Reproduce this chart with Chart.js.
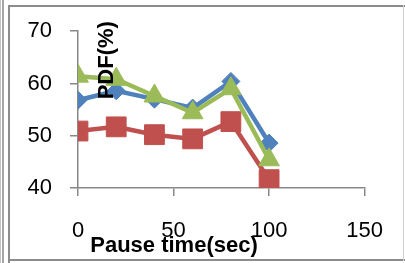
<!DOCTYPE html>
<html>
<head>
<meta charset="utf-8">
<script src="https://cdn.jsdelivr.net/npm/chart.js@4.4.1/dist/chart.umd.min.js"></script>
<style>
  html, body { margin: 0; padding: 0; background: #fff; }
  #wrap { position: relative; width: 405px; height: 263px; overflow: hidden; }
  #wrap canvas { position: absolute; left: 0; top: 0; }
  .ln { position: absolute; background: #8c8c8c; }
</style>
</head>
<body>
<div id="wrap">
  <canvas id="pdfChart" width="405" height="263"></canvas>
  <div class="ln" style="left:0;top:0;width:1px;height:263px;background:#c4c4c4"></div>
  <div class="ln" style="left:2px;top:0;width:2px;height:263px;background:#a6a6a6"></div>
  <div class="ln" style="left:8px;top:5px;width:2px;height:258px"></div>
  <div class="ln" style="left:8px;top:5px;width:397px;height:2px"></div>
  <div class="ln" style="left:8px;top:259px;width:397px;height:2px"></div>
  <div class="ln" style="left:403px;top:5px;width:1px;height:256px;background:#d0d0d0"></div>
</div>
<script>
// pause time values (sec)
const pauseTimes = [0, 20, 40, 60, 80, 100];

// PDF (%) for the three series
const seriesBlue  = [56.8, 58.6, 57.0, 55.3, 60.4, 48.6];
const seriesRed   = [50.9, 51.7, 50.2, 49.4, 52.7, 41.6];
const seriesGreen = [61.4, 60.8, 57.6, 54.4, 59.0, 45.4];

const xTicks = [0, 50, 100, 150];
const yTicks = [40, 50, 60, 70];

function toPoints(vals) {
    return vals.map(function(v, i) { return { x: pauseTimes[i], y: v }; });
}

// axis titles sit inside the plot like in the original sheet
const axisTitles = {
    id: 'axisTitles',
    afterDraw: function(chart) {
        const ctx = chart.ctx;
        const xs = chart.scales.x, ys = chart.scales.y;
        ctx.save();
        ctx.fillStyle = '#000';
        ctx.font = 'bold 22px "Liberation Sans", Arial, sans-serif';
        ctx.textAlign = 'center';
        ctx.textBaseline = 'middle';
        ctx.fillText('Pause time(sec)', xs.left + 96, 246);
        ctx.translate(ys.right + 29, ys.top + 29);
        ctx.rotate(-Math.PI / 2);
        ctx.fillText('PDF(%)', 0, 0);
        ctx.restore();
    }
};

const axisColor = '#888888';
const tickFont = { size: 22, family: '"Liberation Sans", Arial, sans-serif' };

new Chart(document.getElementById('pdfChart'), {
    type: 'line',
    data: {
        datasets: [
            {
                label: 'Series1',
                data: toPoints(seriesBlue),
                borderColor: '#4F81BD',
                backgroundColor: '#4F81BD',
                borderWidth: 4.5,
                pointStyle: 'rectRot',
                pointRadius: 9,
                pointBorderWidth: 1,
                order: 2
            },
            {
                label: 'Series2',
                data: toPoints(seriesRed),
                borderColor: '#C0504D',
                backgroundColor: '#C0504D',
                borderWidth: 4.5,
                pointStyle: 'rect',
                pointRadius: 14,
                pointBorderWidth: 1,
                order: 1
            },
            {
                label: 'Series3',
                data: toPoints(seriesGreen),
                borderColor: '#9BBB59',
                backgroundColor: '#9BBB59',
                borderWidth: 4.5,
                pointStyle: 'triangle',
                pointRadius: 12,
                pointBorderWidth: 1,
                order: 0
            }
        ]
    },
    options: {
        responsive: false,
        animation: false,
        layout: { padding: { left: 0, top: 28, right: 35, bottom: 0 } },
        plugins: {
            legend: { display: false },
            tooltip: { enabled: false }
        },
        scales: {
            x: {
                type: 'linear',
                min: xTicks[0],
                max: xTicks[xTicks.length - 1],
                afterBuildTicks: function(s) { s.ticks = xTicks.map(function(v) { return { value: v }; }); },
                afterFit: function(s) { s.height = 75; },
                border: { color: axisColor, width: 1.5 },
                grid: { drawOnChartArea: false, color: axisColor, lineWidth: 1.5, tickLength: 8 },
                ticks: { color: '#000', padding: 22, maxRotation: 0, font: tickFont }
            },
            y: {
                min: yTicks[0],
                max: yTicks[yTicks.length - 1],
                afterBuildTicks: function(s) { s.ticks = yTicks.map(function(v) { return { value: v }; }); },
                afterFit: function(s) { s.width = 78; },
                border: { color: axisColor, width: 1.5 },
                grid: { drawOnChartArea: false, color: axisColor, lineWidth: 1.5, tickLength: 8 },
                ticks: { color: '#000', padding: 18, font: tickFont }
            }
        }
    },
    plugins: [axisTitles]
});
</script>
</body>
</html>
